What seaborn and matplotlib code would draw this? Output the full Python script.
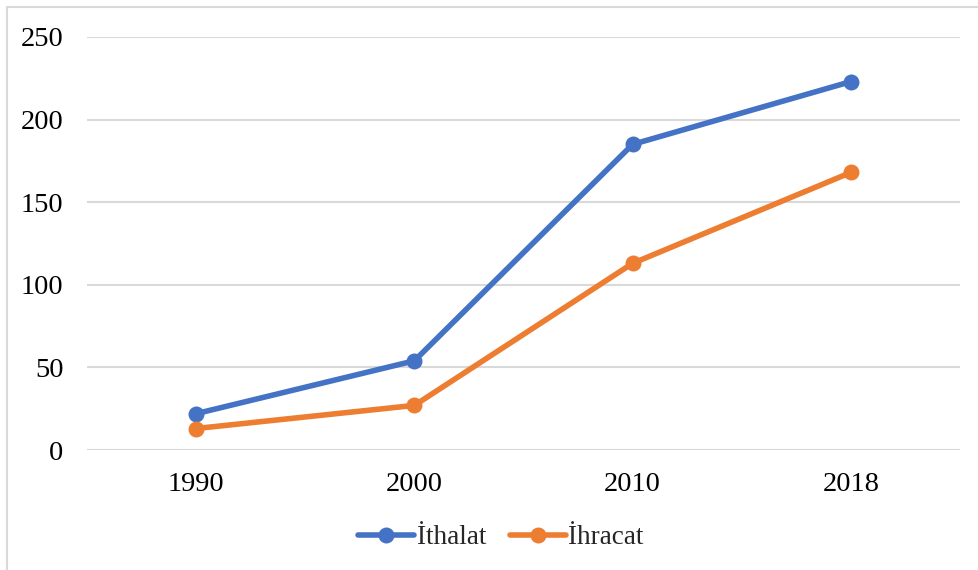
import matplotlib
matplotlib.use("Agg")
import matplotlib.pyplot as plt
from matplotlib.patches import Rectangle
import seaborn as sns
import pandas as pd

years = ["1990", "2000", "2010", "2018"]
ithalat = [22, 54, 185, 223]
ihracat = [13, 27, 113, 168]
series_names = ["İthalat", "İhracat"]
colors = ["#4472C4", "#ED7D31"]
y_ticks = [0, 50, 100, 150, 200, 250]

df = pd.DataFrame({
    "Yıl": years * 2,
    "Değer": ithalat + ihracat,
    "Seri": [series_names[0]] * len(years) + [series_names[1]] * len(years),
})

sns.set_theme(style="white")
plt.rcParams["font.family"] = ["Liberation Serif", "DejaVu Serif"]

W, H = 979, 570
LW = 4.0
MS = 11.5
FS = 20.5

fig = plt.figure(figsize=(W / 100, H / 100), dpi=100)
ax = fig.add_axes([87 / W, (H - 450) / H, (960 - 87) / W, (450 - 37) / H])

sns.lineplot(
    data=df, x="Yıl", y="Değer", hue="Seri", hue_order=series_names,
    palette=colors, marker="o", markersize=MS, markeredgewidth=0,
    linewidth=LW, sort=False, ax=ax, legend=False,
)

ax.set_xlim(-0.5, len(years) - 0.5)
ax.set_ylim(0, 250)
ax.set_yticks(y_ticks)
ax.set_xticks(range(len(years)))
ax.set_xticklabels(years)
ax.set_xlabel("")
ax.set_ylabel("")
ax.grid(axis="y", color="#D9D9D9", linewidth=1.5)
ax.set_axisbelow(True)
for s in ax.spines.values():
    s.set_visible(False)
ax.tick_params(axis="both", length=0, labelsize=FS, colors="black")
ax.tick_params(axis="y", pad=17)
ax.tick_params(axis="x", pad=16)

handles = [
    plt.Line2D([], [], color=c, linewidth=LW, marker="o", markersize=MS,
               markeredgewidth=0, label=n)
    for c, n in zip(colors, series_names)
]
fig.legend(handles=handles, loc="center", bbox_to_anchor=(501 / W, 1 - 538 / H),
           ncol=2, frameon=False, fontsize=19.5, handlelength=2.07,
           handletextpad=0.1, columnspacing=0.85)

# chart frame
fig.patches.append(Rectangle((7 / W, -0.1), 1.2, 1 - 7 / H + 0.1,
                             transform=fig.transFigure, fill=False,
                             edgecolor="#D9D9D9", linewidth=1.5))

fig.savefig("out.png", dpi=100)
